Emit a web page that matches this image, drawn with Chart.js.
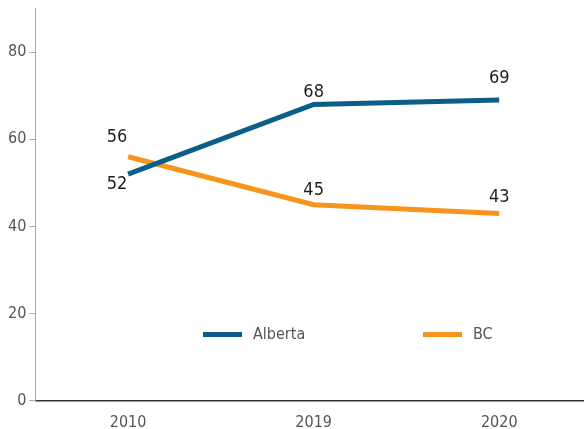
<!DOCTYPE html>
<html>
<head>
<meta charset="utf-8">
<script src="https://cdn.jsdelivr.net/npm/chart.js@4"></script>
<style>
  html, body { margin: 0; padding: 0; background: #fff; overflow: hidden; }
  #wrap { width: 592px; height: 448px; margin-top: -4px; }
</style>
</head>
<body>
<div id="wrap"><canvas id="chart"></canvas></div>
<script>
// data
const years = ['2010', '2019', '2020'];
const alberta = [52, 68, 69];
const bc = [56, 45, 43];
const yTicks = [0, 20, 40, 60, 80];

const albertaColor = '#0b5e87';
const bcColor = '#f7941d';
const fontFamily = "'DejaVu Sans Condensed', 'Liberation Sans Narrow', sans-serif";

// vertical nudge (px) of each value label from its point, per dataset
const labelNudge = [
    [10, -12, -22],
    [-19, -14, -16]
];

// value labels next to each point
const valueLabels = {
    id: 'valueLabels',
    afterDatasetsDraw(chart) {
        const ctx = chart.ctx;
        ctx.save();
        ctx.font = '18px ' + fontFamily;
        ctx.fillStyle = '#1e1e1e';
        ctx.textAlign = 'center';
        ctx.textBaseline = 'middle';
        chart.data.datasets.forEach((ds, di) => {
            const meta = chart.getDatasetMeta(di);
            meta.data.forEach((pt, i) => {
                const dx = i === 0 ? -11 : 0;
                ctx.fillText(ds.data[i], pt.x + dx, pt.y + labelNudge[di][i]);
            });
        });
        ctx.restore();
    }
};

// legend drawn inside the plot area
const innerLegend = {
    id: 'innerLegend',
    afterDraw(chart) {
        const ctx = chart.ctx;
        const y = chart.scales.y.getPixelForValue(15.2);
        const starts = [203, 423];
        ctx.save();
        ctx.font = '16px ' + fontFamily;
        ctx.textBaseline = 'middle';
        ctx.textAlign = 'left';
        chart.data.datasets.forEach((ds, i) => {
            const x = starts[i];
            ctx.strokeStyle = ds.borderColor;
            ctx.lineWidth = 5;
            ctx.beginPath();
            ctx.moveTo(x, y);
            ctx.lineTo(x + 39, y);
            ctx.stroke();
            ctx.fillStyle = '#555';
            ctx.fillText(ds.label, x + 50, y);
        });
        ctx.restore();
    }
};

new Chart(document.getElementById('chart'), {
    type: 'line',
    data: {
        labels: years,
        datasets: [
            {
                label: 'Alberta',
                data: alberta,
                borderColor: albertaColor,
                borderWidth: 5,
                pointRadius: 0,
                tension: 0
            },
            {
                label: 'BC',
                data: bc,
                borderColor: bcColor,
                borderWidth: 5,
                pointRadius: 0,
                tension: 0
            }
        ]
    },
    options: {
        responsive: true,
        maintainAspectRatio: false,
        animation: false,
        layout: { padding: { top: 0, left: 5, right: 0, bottom: 0 } },
        plugins: {
            legend: { display: false },
            tooltip: { enabled: false }
        },
        scales: {
            x: {
                offset: true,
                grid: { display: false, drawTicks: false },
                border: { color: '#333', width: 1.5 },
                ticks: {
                    color: '#555',
                    padding: 12,
                    font: { family: fontFamily, size: 16, lineHeight: 1.2 }
                }
            },
            y: {
                min: 0,
                max: 90,
                afterBuildTicks(scale) {
                    scale.ticks = yTicks.map(v => ({ value: v }));
                },
                grid: {
                    drawOnChartArea: false,
                    color: '#aaa',
                    tickLength: 6
                },
                border: { color: '#aaa', width: 1 },
                ticks: {
                    color: '#555',
                    padding: 3,
                    font: { family: fontFamily, size: 16 }
                }
            }
        }
    },
    plugins: [valueLabels, innerLegend]
});
</script>
</body>
</html>
